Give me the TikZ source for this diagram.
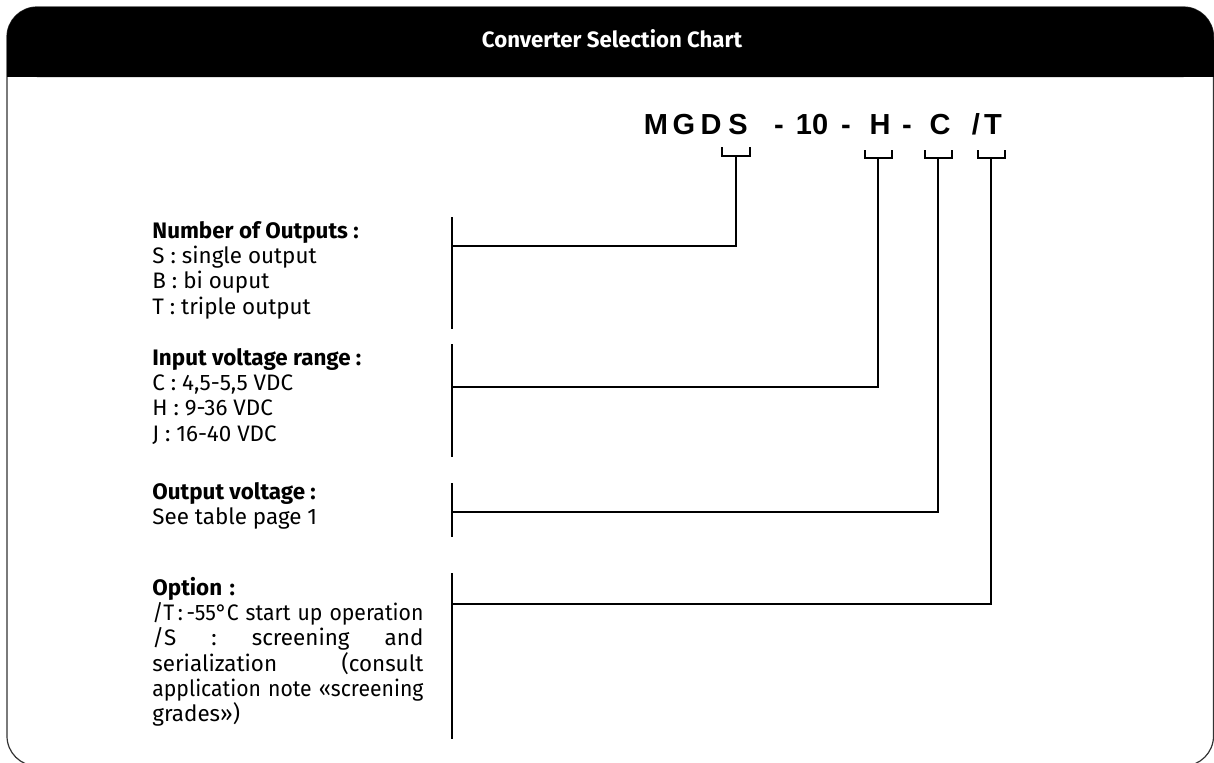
\documentclass[tikz,border=0pt]{standalone}
\usepackage{fontspec}
\setmainfont{Fira Sans}
\newfontfamily\partfont{Liberation Sans}
\usetikzlibrary{positioning}
% one justified line of the option text
\newsavebox\optbox
\newcommand\optline[1]{\sbox\optbox{#1}\ifdim\wd\optbox>135.5pt\resizebox{135.5pt}{\height}{\usebox\optbox}\else\makebox[135.5pt][s]{\spaceskip=0pt\xspaceskip=0pt #1}\fi}

\begin{document}
\begin{tikzpicture}[x=0.5pt,y=0.5pt]
	\tikzstyle{every node}+=[inner sep=0pt]
	\tikzstyle{bar}=[black,line width=1pt]
	\tikzstyle{code}=[font=\partfont\bfseries\fontsize{14.5}{17}\selectfont,anchor=base]
	\tikzstyle{block}=[font=\fontsize{11.2}{12.6}\selectfont,align=left,anchor=north west]
	\useasboundingbox (0,0) rectangle (1214,-762);
	% frame and black header
	\draw [black!80,line width=0.6pt,rounded corners=15pt] (7,-7) rectangle (1213.5,-766);
	\fill [black,rounded corners=15pt] (7,-7) rectangle (1213.5,-77);
	\fill [black] (7,-40) rectangle (1213.5,-77);
	\node [text=white,font=\bfseries\fontsize{11.1}{14}\selectfont,anchor=base] (title) at (612,-47) {Converter Selection Chart};
	% part number
	\node [code] (m) at (656,-134) {M};
	\node [code] (g) at (684,-134) {G};
	\node [code] (d) at (711,-134) {D};
	\node [code] (s) at (738,-134) {S};
	\node [code] (dashA) at (779,-134) {-};
	\node [code] (ten) at (812,-134) {10};
	\node [code] (dashB) at (846,-134) {-};
	\node [code] (h) at (880,-134) {H};
	\node [code] (dashC) at (907,-134) {-};
	\node [code] (c) at (940,-134) {C};
	\node [code] (slash) at (976,-134) {/};
	\node [code] (t) at (993,-134) {T};
	% brackets under the code
	\draw [bar] (722,-147) -- (722,-156) -- (750,-156) -- (750,-147);
	\draw [bar] (865,-150) -- (865,-158) -- (892,-158) -- (892,-150);
	\draw [bar] (925,-150) -- (925,-158) -- (952,-158) -- (952,-150);
	\draw [bar] (978,-150) -- (978,-158) -- (1005,-158) -- (1005,-150);
	\coordinate (sB) at (736,-156);
	\coordinate (hB) at (878,-158);
	\coordinate (cB) at (938,-158);
	\coordinate (tB) at (991,-158);
	% text blocks
	\node [block] (outputs) at (152,-221) {\textbf{Number of Outputs :}\\S : single output\\B : bi ouput\\T : triple output};
	\node [block] (input) at (152,-348) {\textbf{Input voltage range :}\\C : 4,5-5,5 VDC\\H : 9-36 VDC\\J : 16-40 VDC};
	\node [block] (voltage) at (152,-482) {\textbf{Output voltage :}\\See table page 1};
	\node [block,text width=135.5pt] (option) at (152,-577) {\textbf{Option :}\\\optline{/T\,:\,-55°C start up operation}\\\optline{/S : screening and}\\\optline{serialization (consult}\\\optline{application note «screening}\\grades»)};
	% bars
	\draw [bar] (452,-217) -- (452,-329);
	\draw [bar] (452,-344) -- (452,-457);
	\draw [bar] (452,-483) -- (452,-537);
	\draw [bar] (452,-573) -- (452,-739);
	\coordinate (outJ) at (452,-246);
	\coordinate (inJ) at (452,-387);
	\coordinate (volJ) at (452,-512);
	\coordinate (optJ) at (452,-604);
	% connectors
	\draw [bar] (sB) |- (outJ);
	\draw [bar] (hB) |- (inJ);
	\draw [bar] (cB) |- (volJ);
	\draw [bar] (tB) |- (optJ);
\end{tikzpicture}
\end{document}
